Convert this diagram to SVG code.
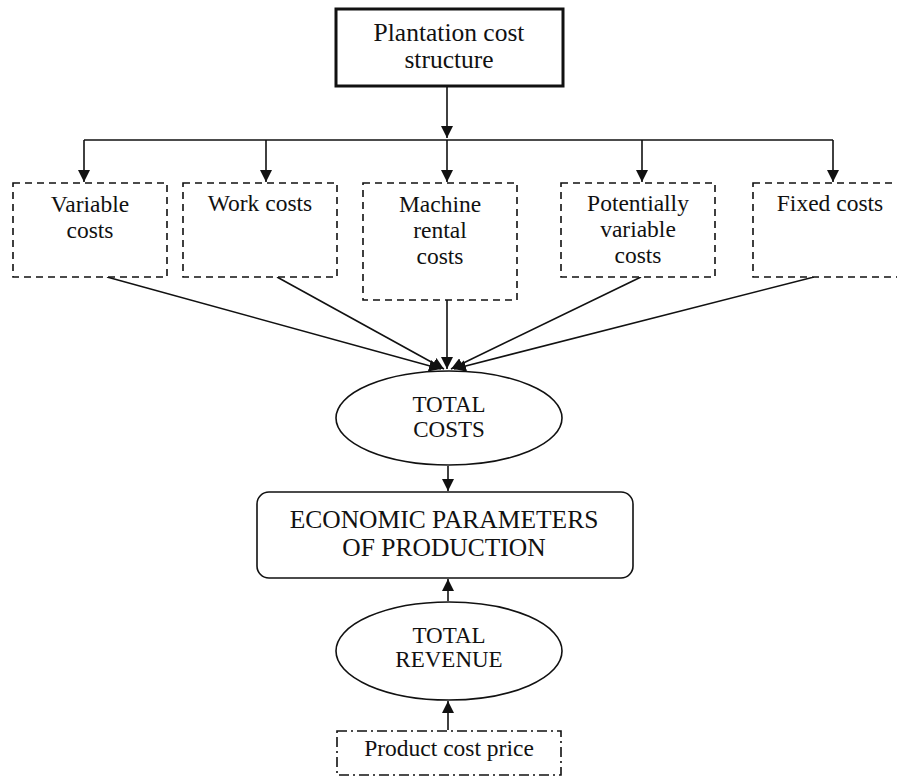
<svg xmlns="http://www.w3.org/2000/svg" width="897" height="777" viewBox="0 0 897 777">
<style>
text{font-family:"Liberation Serif","Times New Roman",serif;fill:#111;text-anchor:middle}
.p{font-size:25.5px}
.t{font-size:23.5px}
.c{font-size:23px}
.e{font-size:25.5px}
.dash{fill:#fff;stroke:#111;stroke-width:1.6;stroke-dasharray:7 5}
.dd{fill:#fff;stroke:#111;stroke-width:1.6;stroke-dasharray:10 4 2 4}
.ln{fill:none;stroke:#111;stroke-width:1.6}
.sh{fill:#fff;stroke:#111;stroke-width:1.6}
</style>
<defs>
<marker id="ah2" viewBox="0 0 10 10" refX="10" refY="5" markerWidth="12" markerHeight="12" markerUnits="userSpaceOnUse" orient="auto">
<path d="M0,0 L10,5 L0,10 z" fill="#111"/>
</marker>
</defs>
<rect width="897" height="777" fill="#fff"/>
<g id="connectors">
<path class="ln" d="M447,86 V138" marker-end="url(#ah2)"/>
<path class="ln" d="M84,140 H833"/>
<path class="ln" d="M84,140 V182" marker-end="url(#ah2)"/>
<path class="ln" d="M266,140 V182" marker-end="url(#ah2)"/>
<path class="ln" d="M447,140 V182" marker-end="url(#ah2)"/>
<path class="ln" d="M642,140 V182" marker-end="url(#ah2)"/>
<path class="ln" d="M833,140 V182" marker-end="url(#ah2)"/>
<path class="ln" d="M107,277 L441,369" marker-end="url(#ah2)"/>
<path class="ln" d="M277,277 L444,369" marker-end="url(#ah2)"/>
<path class="ln" d="M447,300 V369" marker-end="url(#ah2)"/>
<path class="ln" d="M641,277 L451,369" marker-end="url(#ah2)"/>
<path class="ln" d="M814,277 L454,369" marker-end="url(#ah2)"/>
<path class="ln" d="M448,466 V491" marker-end="url(#ah2)"/>
<path class="ln" d="M448,601 V579" marker-end="url(#ah2)"/>
<path class="ln" d="M448,730 V701" marker-end="url(#ah2)"/>
</g>
<g id="plantation">
<rect x="336" y="9" width="227" height="77" fill="#fff" stroke="#111" stroke-width="3"/>
<text class="p" x="449" y="41">Plantation cost</text>
<text class="p" x="449" y="68">structure</text>
</g>
<g id="variable">
<rect class="dash" x="13" y="183" width="154" height="94"/>
<text class="t" x="90" y="212">Variable</text>
<text class="t" x="90" y="238">costs</text>
</g>
<g id="work">
<rect class="dash" x="183" y="183" width="154" height="94"/>
<text class="t" x="260" y="211">Work costs</text>
</g>
<g id="machine">
<rect class="dash" x="363" y="183" width="154" height="117"/>
<text class="t" x="440" y="212">Machine</text>
<text class="t" x="440" y="238">rental</text>
<text class="t" x="440" y="264">costs</text>
</g>
<g id="potentially">
<rect class="dash" x="561" y="183" width="154" height="94"/>
<text class="t" x="638" y="211">Potentially</text>
<text class="t" x="638" y="237">variable</text>
<text class="t" x="638" y="263">costs</text>
</g>
<g id="fixed">
<rect class="dash" x="753" y="183" width="154" height="94"/>
<text class="t" x="830" y="211">Fixed costs</text>
</g>
<g id="total-costs">
<ellipse class="sh" cx="449" cy="418" rx="113" ry="47"/>
<text class="c" x="449" y="412">TOTAL</text>
<text class="c" x="449" y="437">COSTS</text>
</g>
<g id="economic">
<rect class="sh" x="257" y="492" width="376" height="86" rx="12" ry="12"/>
<text class="e" x="444" y="528">ECONOMIC PARAMETERS</text>
<text class="e" x="444" y="556">OF PRODUCTION</text>
</g>
<g id="total-revenue">
<ellipse class="sh" cx="449" cy="651" rx="113" ry="49"/>
<text class="c" x="449" y="643">TOTAL</text>
<text class="c" x="449" y="667">REVENUE</text>
</g>
<g id="product">
<rect class="dd" x="337" y="731" width="224" height="44"/>
<text class="t" x="449" y="756">Product cost price</text>
</g>
</svg>
